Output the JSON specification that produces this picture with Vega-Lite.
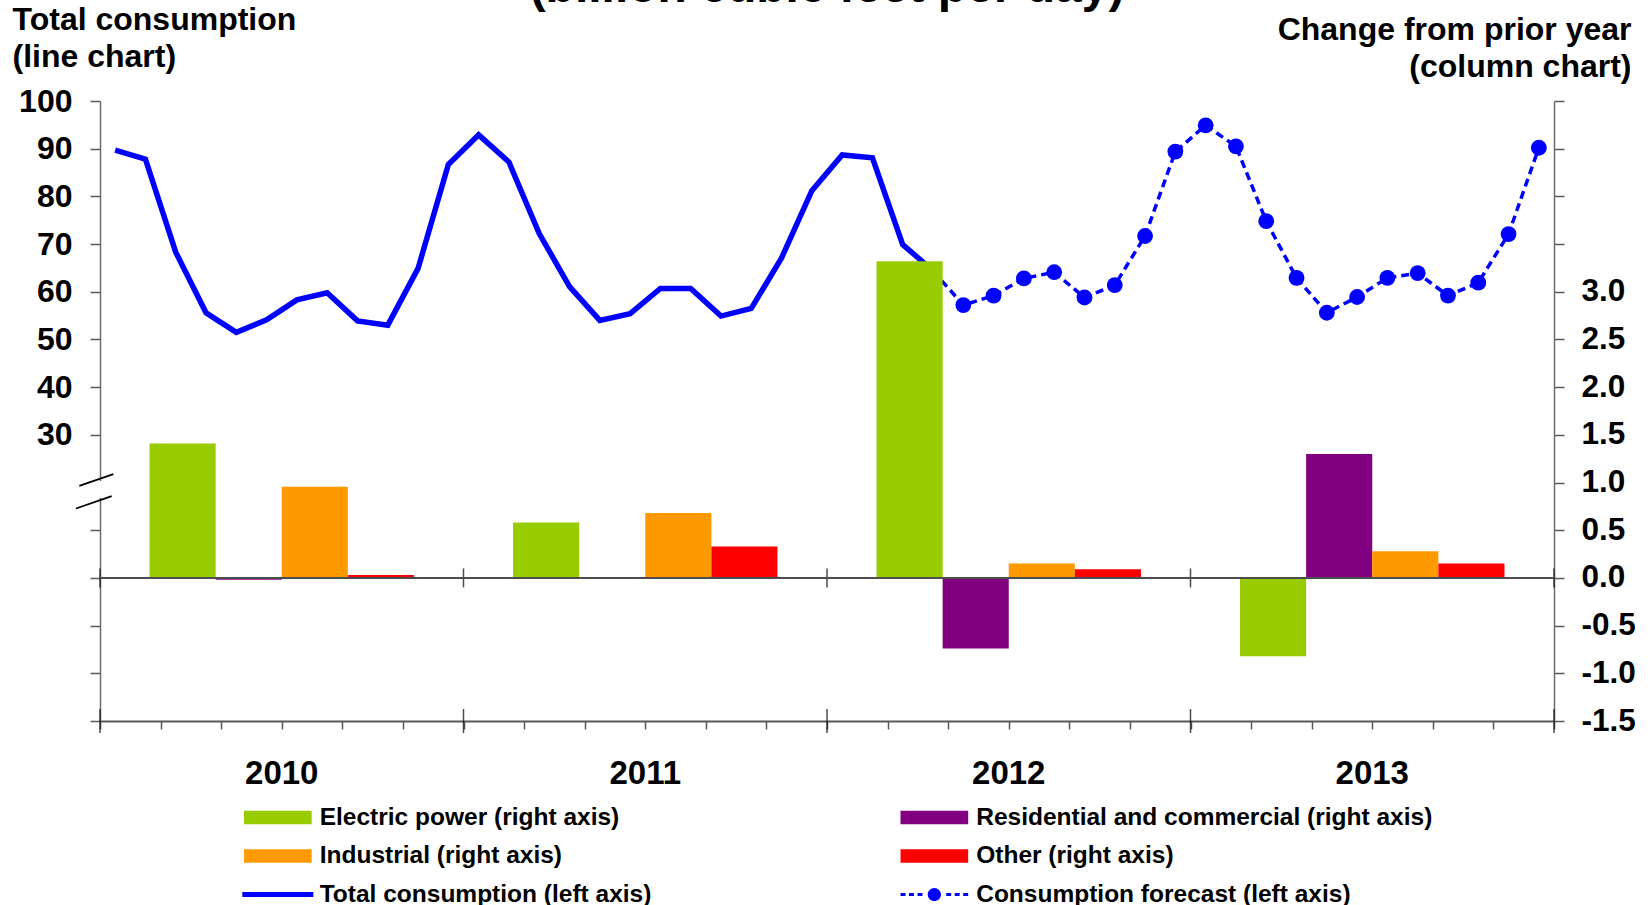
{
  "$schema": "https://vega.github.io/schema/vega-lite/v6.json",
  "width": 1454,
  "height": 620,
  "autosize": {"type": "none"},
  "padding": {"left": 100, "top": 101, "right": 97, "bottom": 184},
  "background": "white",
  "config": {
    "font": "Liberation Sans",
    "view": {"stroke": null},
    "axis": {"labelFont": "Liberation Sans", "titleFont": "Liberation Sans", "labelFontWeight": "bold", "titleFontWeight": "bold", "labelColor": "black", "titleColor": "black", "grid": false}
  },
  "title": {"text": "(billion cubic feet per day)", "font": "Liberation Sans", "fontSize": 48, "fontWeight": "bold", "color": "black", "anchor": "middle", "offset": -9},
  "datasets": {
    "total": [
      {"m": 0, "v": 89.7, "series": "Total consumption (left axis)"},
      {"m": 1, "v": 87.8, "series": "Total consumption (left axis)"},
      {"m": 2, "v": 68.3, "series": "Total consumption (left axis)"},
      {"m": 3, "v": 55.6, "series": "Total consumption (left axis)"},
      {"m": 4, "v": 51.5, "series": "Total consumption (left axis)"},
      {"m": 5, "v": 54.1, "series": "Total consumption (left axis)"},
      {"m": 6, "v": 58.3, "series": "Total consumption (left axis)"},
      {"m": 7, "v": 59.8, "series": "Total consumption (left axis)"},
      {"m": 8, "v": 53.9, "series": "Total consumption (left axis)"},
      {"m": 9, "v": 53.0, "series": "Total consumption (left axis)"},
      {"m": 10, "v": 64.9, "series": "Total consumption (left axis)"},
      {"m": 11, "v": 86.7, "series": "Total consumption (left axis)"},
      {"m": 12, "v": 92.9, "series": "Total consumption (left axis)"},
      {"m": 13, "v": 87.2, "series": "Total consumption (left axis)"},
      {"m": 14, "v": 72.2, "series": "Total consumption (left axis)"},
      {"m": 15, "v": 61.1, "series": "Total consumption (left axis)"},
      {"m": 16, "v": 54.0, "series": "Total consumption (left axis)"},
      {"m": 17, "v": 55.4, "series": "Total consumption (left axis)"},
      {"m": 18, "v": 60.7, "series": "Total consumption (left axis)"},
      {"m": 19, "v": 60.7, "series": "Total consumption (left axis)"},
      {"m": 20, "v": 54.9, "series": "Total consumption (left axis)"},
      {"m": 21, "v": 56.5, "series": "Total consumption (left axis)"},
      {"m": 22, "v": 67.1, "series": "Total consumption (left axis)"},
      {"m": 23, "v": 81.2, "series": "Total consumption (left axis)"},
      {"m": 24, "v": 88.7, "series": "Total consumption (left axis)"},
      {"m": 25, "v": 88.1, "series": "Total consumption (left axis)"},
      {"m": 26, "v": 69.9, "series": "Total consumption (left axis)"},
      {"m": 27, "v": 64.4, "series": "Total consumption (left axis)"}
    ],
    "forecast": [
      {"m": 27, "v": 64.4, "series": "Consumption forecast (left axis)"},
      {"m": 28, "v": 57.2, "series": "Consumption forecast (left axis)"},
      {"m": 29, "v": 59.2, "series": "Consumption forecast (left axis)"},
      {"m": 30, "v": 62.8, "series": "Consumption forecast (left axis)"},
      {"m": 31, "v": 64.1, "series": "Consumption forecast (left axis)"},
      {"m": 32, "v": 58.8, "series": "Consumption forecast (left axis)"},
      {"m": 33, "v": 61.4, "series": "Consumption forecast (left axis)"},
      {"m": 34, "v": 71.7, "series": "Consumption forecast (left axis)"},
      {"m": 35, "v": 89.4, "series": "Consumption forecast (left axis)"},
      {"m": 36, "v": 94.9, "series": "Consumption forecast (left axis)"},
      {"m": 37, "v": 90.5, "series": "Consumption forecast (left axis)"},
      {"m": 38, "v": 74.8, "series": "Consumption forecast (left axis)"},
      {"m": 39, "v": 62.9, "series": "Consumption forecast (left axis)"},
      {"m": 40, "v": 55.6, "series": "Consumption forecast (left axis)"},
      {"m": 41, "v": 58.9, "series": "Consumption forecast (left axis)"},
      {"m": 42, "v": 62.9, "series": "Consumption forecast (left axis)"},
      {"m": 43, "v": 63.9, "series": "Consumption forecast (left axis)"},
      {"m": 44, "v": 59.2, "series": "Consumption forecast (left axis)"},
      {"m": 45, "v": 61.9, "series": "Consumption forecast (left axis)"},
      {"m": 46, "v": 72.1, "series": "Consumption forecast (left axis)"},
      {"m": 47, "v": 90.2, "series": "Consumption forecast (left axis)"}
    ],
    "bars": [
      {"year": "2010", "sector": "Electric power (right axis)", "val": 1.41},
      {"year": "2010", "sector": "Residential and commercial (right axis)", "val": -0.02},
      {"year": "2010", "sector": "Industrial (right axis)", "val": 0.955},
      {"year": "2010", "sector": "Other (right axis)", "val": 0.03},
      {"year": "2011", "sector": "Electric power (right axis)", "val": 0.58},
      {"year": "2011", "sector": "Residential and commercial (right axis)", "val": 0.01},
      {"year": "2011", "sector": "Industrial (right axis)", "val": 0.68},
      {"year": "2011", "sector": "Other (right axis)", "val": 0.33},
      {"year": "2012", "sector": "Electric power (right axis)", "val": 3.32},
      {"year": "2012", "sector": "Residential and commercial (right axis)", "val": -0.74},
      {"year": "2012", "sector": "Industrial (right axis)", "val": 0.15},
      {"year": "2012", "sector": "Other (right axis)", "val": 0.09},
      {"year": "2013", "sector": "Electric power (right axis)", "val": -0.82},
      {"year": "2013", "sector": "Residential and commercial (right axis)", "val": 1.3},
      {"year": "2013", "sector": "Industrial (right axis)", "val": 0.28},
      {"year": "2013", "sector": "Other (right axis)", "val": 0.15}
    ],
    "yearEdges": [{"m": -0.5}, {"m": 11.5}, {"m": 23.5}, {"m": 35.5}, {"m": 47.5}],
    "breaks": [
      {"b": 1, "m": -1.183, "v": 19.3},
      {"b": 1, "m": -0.061, "v": 21.75},
      {"b": 2, "m": -1.292, "v": 14.56},
      {"b": 2, "m": -0.114, "v": 17.14}
    ]
  },
  "layer": [
    {
      "layer": [
        {
          "data": {"name": "total"},
          "mark": {"type": "line", "strokeWidth": 5.5},
          "encoding": {
            "x": {"field": "m", "type": "quantitative", "scale": {"domain": [-0.5, 47.5], "nice": false, "zero": false},
              "axis": {"orient": "bottom", "title": null, "labels": false, "values": [-0.5,0.5,1.5,2.5,3.5,4.5,5.5,6.5,7.5,8.5,9.5,10.5,11.5,12.5,13.5,14.5,15.5,16.5,17.5,18.5,19.5,20.5,21.5,22.5,23.5,24.5,25.5,26.5,27.5,28.5,29.5,30.5,31.5,32.5,33.5,34.5,35.5,36.5,37.5,38.5,39.5,40.5,41.5,42.5,43.5,44.5,45.5,46.5,47.5], "tickSize": 8, "tickColor": "#595959", "tickWidth": 1.5, "domainColor": "#595959", "domainWidth": 2}},
            "y": {"field": "v", "type": "quantitative", "scale": {"domain": [-30, 100], "nice": false, "zero": false},
              "axis": {"orient": "left", "values": [-30,-20,-10,0,10,30,40,50,60,70,80,90,100], "labelExpr": "datum.value >= 30 ? datum.label : ''", "labelFontSize": 32, "labelPadding": 18, "tickSize": 10, "tickColor": "#595959", "tickWidth": 1.5, "domainColor": "#6b6b6b", "domainWidth": 1.5,
                "title": ["Total consumption", "(line chart)"], "titleFontSize": 32, "titleAngle": 0, "titleAlign": "left", "titleBaseline": "alphabetic", "titleX": -88, "titleY": -72, "titleLineHeight": 37}},
            "color": {"field": "series", "type": "nominal",
              "scale": {"domain": ["Electric power (right axis)", "Residential and commercial (right axis)", "Industrial (right axis)", "Other (right axis)", "Total consumption (left axis)", "Consumption forecast (left axis)"], "range": ["#99CC00", "#800080", "#FF9900", "#FF0000", "#0000FF", "#0000FF"]},
              "legend": {"title": null, "orient": "none", "direction": "horizontal", "legendX": 144, "legendY": 704, "columns": 2, "columnPadding": 248.5, "rowPadding": 13.5, "padding": 0,
                "labelFont": "Liberation Sans", "labelFontSize": 24.5, "labelFontWeight": "bold", "labelColor": "black", "labelOffset": 29.35, "labelLimit": 600,
                "symbolSize": 600, "symbolStrokeWidth": 0, "symbolOffset": 21.35, "symbolOpacity": 1,
                "symbolType": {"expr": "datum.value === 'Total consumption (left axis)' ? 'M-2.9,-0.204H2.9V0.204H-2.9Z' : datum.value === 'Consumption forecast (left axis)' ? 'M-2.763,-0.122H-2.354V0.122H-2.763ZM-2.07,-0.122H-1.661V0.122H-2.07ZM-1.376,-0.122H-0.967V0.122H-1.376ZM0.967,-0.122H1.376V0.122H0.967ZM1.661,-0.122H2.07V0.122H1.661ZM2.354,-0.122H2.763V0.122H2.354ZM-0.54,0A0.54,0.54 0 1 0 0.54,0A0.54,0.54 0 1 0 -0.54,0Z' : 'M-2.763,-0.555H2.763V0.555H-2.763Z'"}}
            }
          }
        },
        {
          "data": {"name": "forecast"},
          "mark": {"type": "line", "strokeWidth": 3.5, "strokeDash": [8, 5], "point": {"filled": true, "size": 250}},
          "encoding": {
            "x": {"field": "m", "type": "quantitative"},
            "y": {"field": "v", "type": "quantitative"},
            "color": {"field": "series", "type": "nominal"}
          }
        },
        {
          "data": {"name": "yearEdges"},
          "mark": {"type": "tick", "orient": "vertical", "size": 19, "thickness": 1.5, "color": "black"},
          "encoding": {"x": {"field": "m", "type": "quantitative"}, "y": {"datum": 0}}
        },
        {
          "data": {"name": "yearEdges"},
          "mark": {"type": "tick", "orient": "vertical", "size": 24, "thickness": 1.5, "color": "black"},
          "encoding": {"x": {"field": "m", "type": "quantitative"}, "y": {"datum": -30}}
        },
        {
          "data": {"values": [{}]},
          "mark": {"type": "rule", "color": "white", "strokeWidth": 5},
          "encoding": {"x": {"datum": -0.5}, "y": {"datum": 20.3}, "y2": {"datum": 16.8}}
        },
        {
          "data": {"name": "breaks"},
          "mark": {"type": "line", "color": "black", "strokeWidth": 1.8},
          "encoding": {"x": {"field": "m", "type": "quantitative"}, "y": {"field": "v", "type": "quantitative"}, "detail": {"field": "b"}}
        }
      ]
    },
    {
      "data": {"name": "bars"},
      "layer": [
        {
          "mark": {"type": "bar"},
          "encoding": {
            "x": {"field": "year", "type": "ordinal", "scale": {"paddingInner": 0.2725, "paddingOuter": 0.13625},
              "axis": {"orient": "bottom", "title": null, "domain": false, "ticks": false, "tickSize": 0, "labelAngle": 0, "labelFontSize": 33, "labelPadding": 36}},
            "xOffset": {"field": "sector", "type": "nominal", "scale": {"domain": ["Electric power (right axis)", "Residential and commercial (right axis)", "Industrial (right axis)", "Other (right axis)"], "paddingInner": 0, "paddingOuter": 0}},
            "y": {"field": "val", "type": "quantitative", "scale": {"domain": [-1.5, 5], "nice": false, "zero": false},
              "axis": {"orient": "right", "values": [-1.5,-1,-0.5,0,0.5,1,1.5,2,2.5,3,3.5,4,4.5,5], "labelExpr": "datum.value > 3.01 ? '' : (datum.value < 0 ? '-' : '') + format(abs(datum.value), '.1f')", "labelFontSize": 31.5, "labelPadding": 17, "tickSize": 10, "tickColor": "#595959", "tickWidth": 1.5, "domainColor": "#6b6b6b", "domainWidth": 1.5,
                "title": ["Change from prior year", "(column chart)"], "titleFontSize": 32, "titleAngle": 0, "titleAlign": "right", "titleBaseline": "alphabetic", "titleX": 77, "titleY": -62, "titleLineHeight": 37}},
            "color": {"field": "sector", "type": "nominal",
              "scale": {"domain": ["Electric power (right axis)", "Residential and commercial (right axis)", "Industrial (right axis)", "Other (right axis)", "Total consumption (left axis)", "Consumption forecast (left axis)"], "range": ["#99CC00", "#800080", "#FF9900", "#FF0000", "#0000FF", "#0000FF"]}}
          }
        },
        {
          "mark": {"type": "rule", "color": "#4d4d4d", "strokeWidth": 2},
          "encoding": {"y": {"datum": 0}}
        }
      ]
    }
  ],
  "resolve": {"scale": {"x": "independent", "y": "independent"}}
}
